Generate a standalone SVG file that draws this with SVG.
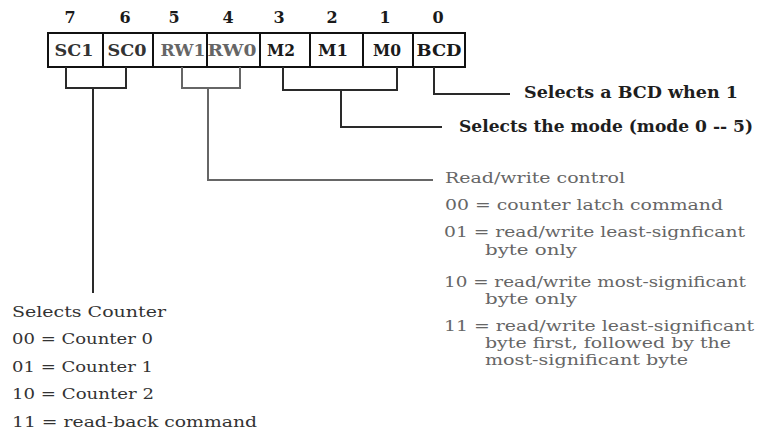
<svg xmlns="http://www.w3.org/2000/svg" width="760" height="432" viewBox="0 0 760 432">
<style>
  .cell { fill: #fff; stroke: #111; stroke-width: 2; }
  .num { font-family: "DejaVu Serif", serif; font-weight: bold; font-size: 16px; fill: #1a1a1a; text-anchor: middle; }
  .lbl { font-family: "DejaVu Serif", serif; font-weight: bold; font-size: 16.5px; text-anchor: middle; }
  .dark { fill: #333; }
  .gray { fill: #666; }
  .blk { fill: #1a1a1a; }
  .conn { fill: none; stroke-width: 2; }
  .cd { stroke: #2a2a2a; }
  .cg { stroke: #666; }
  .desc { font-family: "DejaVu Serif", serif; font-size: 15.5px; }
  .rw { font-size: 14.5px; }
  .head { font-family: "DejaVu Serif", serif; font-weight: bold; font-size: 17px; fill: #1e1e1e; }
</style>
<rect width="760" height="432" fill="#fff"/>

<g id="bit-numbers">
  <text class="num" x="70" y="23">7</text>
  <text class="num" x="125" y="23">6</text>
  <text class="num" x="174" y="23">5</text>
  <text class="num" x="228" y="23">4</text>
  <text class="num" x="279" y="23">3</text>
  <text class="num" x="332" y="23">2</text>
  <text class="num" x="385" y="23">1</text>
  <text class="num" x="438" y="23">0</text>
</g>

<g id="cell-SC1"><rect class="cell" x="48" y="33" width="55" height="34"/><text class="lbl dark" x="74" y="56" textLength="39" lengthAdjust="spacingAndGlyphs">SC1</text></g>
<g id="cell-SC0"><rect class="cell" x="103" y="33" width="50" height="34"/><text class="lbl dark" x="127" y="56" textLength="39" lengthAdjust="spacingAndGlyphs">SC0</text></g>
<g id="cell-RW1"><rect class="cell" x="153" y="33" width="54" height="34"/><text class="lbl gray" x="183" y="56" textLength="45" lengthAdjust="spacingAndGlyphs">RW1</text></g>
<g id="cell-RW0"><rect class="cell" x="207" y="33" width="53" height="34"/><text class="lbl gray" x="232" y="56" textLength="49" lengthAdjust="spacingAndGlyphs">RW0</text></g>
<g id="cell-M2"><rect class="cell" x="260" y="33" width="50" height="34"/><text class="lbl blk" x="281" y="56" textLength="28" lengthAdjust="spacingAndGlyphs">M2</text></g>
<g id="cell-M1"><rect class="cell" x="310" y="33" width="53" height="34"/><text class="lbl blk" x="333" y="56" textLength="30" lengthAdjust="spacingAndGlyphs">M1</text></g>
<g id="cell-M0"><rect class="cell" x="363" y="33" width="50" height="34"/><text class="lbl blk" x="387" y="56" textLength="28" lengthAdjust="spacingAndGlyphs">M0</text></g>
<g id="cell-BCD"><rect class="cell" x="413" y="33" width="52" height="34"/><text class="lbl blk" x="439" y="56" textLength="45" lengthAdjust="spacingAndGlyphs">BCD</text></g>

<g id="connectors">
  <path class="conn cd" d="M66,67 V88 H126 V67 M93,88 V293"/>
  <path class="conn cg" d="M182,67 V88 H240 V67 M208,88 V180 H433"/>
  <path class="conn cd" d="M283,67 V90 H397 V67 M341,90 V127 H442"/>
  <path class="conn cd" d="M434,67 V94 H510"/>
</g>

<g id="label-bcd">
  <text class="head" x="524" y="98" textLength="214" lengthAdjust="spacingAndGlyphs">Selects a BCD when 1</text>
</g>
<g id="label-mode">
  <text class="head" x="459" y="132" textLength="294" lengthAdjust="spacingAndGlyphs">Selects the mode (mode 0 -- 5)</text>
</g>

<g id="label-rw" class="desc rw gray">
  <text x="445" y="183" textLength="180" lengthAdjust="spacingAndGlyphs">Read/write control</text>
  <text x="445" y="210" textLength="278" lengthAdjust="spacingAndGlyphs">00 = counter latch command</text>
  <text x="444" y="237" textLength="301" lengthAdjust="spacingAndGlyphs">01 = read/write least-signficant</text>
  <text x="485" y="255" textLength="92" lengthAdjust="spacingAndGlyphs">byte only</text>
  <text x="444" y="287" textLength="302" lengthAdjust="spacingAndGlyphs">10 = read/write most-significant</text>
  <text x="485" y="304" textLength="92" lengthAdjust="spacingAndGlyphs">byte only</text>
  <text x="444" y="331" textLength="310" lengthAdjust="spacingAndGlyphs">11 = read/write least-significant</text>
  <text x="485" y="348" textLength="246" lengthAdjust="spacingAndGlyphs">byte first, followed by the</text>
  <text x="485" y="365" textLength="203" lengthAdjust="spacingAndGlyphs">most-significant byte</text>
</g>

<g id="label-counter" class="desc dark">
  <text x="12" y="317" textLength="154" lengthAdjust="spacingAndGlyphs">Selects Counter</text>
  <text x="12" y="344" textLength="141" lengthAdjust="spacingAndGlyphs">00 = Counter 0</text>
  <text x="12" y="372" textLength="141" lengthAdjust="spacingAndGlyphs">01 = Counter 1</text>
  <text x="12" y="399" textLength="142" lengthAdjust="spacingAndGlyphs">10 = Counter 2</text>
  <text x="12" y="427" textLength="245" lengthAdjust="spacingAndGlyphs">11 = read-back command</text>
</g>
</svg>
